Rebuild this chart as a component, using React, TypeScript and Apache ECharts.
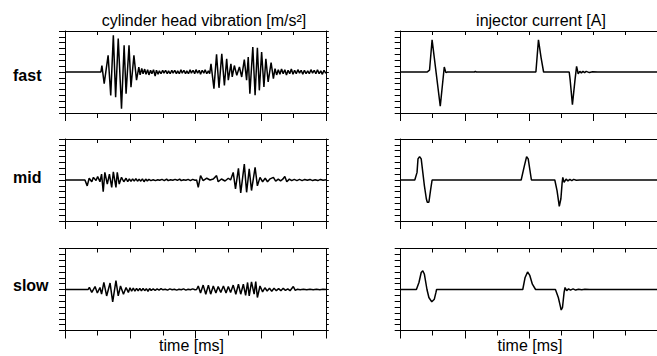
import React, { useEffect, useRef } from "react";
import * as echarts from "echarts";

// ---------- data: [time, value] ----------
const fastVibration: number[][] = [
  [0, 0], [11.0, 0], [11.3, 1.1], [12.0, -2.0], [13.2, 2.85], [14.0, -4.0], [14.8, 6.25], [15.5, -4.3],
  [16.3, 5.7], [17.3, -6.25], [18.1, 4.55], [18.7, -3.7], [19.6, 4.55], [20.2, -2.6], [21.1, 2.85],
  [21.9, -1.4], [22.6, 0.85],
  [23.0, -0.5], [23.5, 0.6], [23.9, -0.3], [24.4, 0.5], [24.8, -0.4], [25.3, 0.4], [25.7, -0.5], [26.2, 0.3],
  [26.6, -0.3], [27.1, 0.4], [27.6, -0.7], [28.0, 0.3], [28.5, -0.4], [28.9, 0.2], [29.4, -0.3], [29.9, 0.3],
  [30.3, -0.2], [30.8, 0.3], [31.3, -0.3], [31.7, 0.2], [32.2, -0.3], [32.7, 0.3], [33.1, -0.2], [33.6, 0.3],
  [34.1, -0.3], [34.5, 0.2], [35.0, -0.3], [35.5, 0.4], [35.9, -0.2], [36.4, 0.3], [36.9, -0.3], [37.3, 0.2],
  [37.8, -0.3], [38.3, 0.4], [38.7, -0.2], [39.2, 0.3], [39.7, -0.3], [40.1, 0.4], [40.6, -0.2], [41.1, 0.3],
  [41.5, -0.4], [42.0, 0.3], [42.5, -0.2], [42.9, 0.4], [43.4, -0.3], [43.9, 0.2], [44.3, -0.3],
  [44.7, 1.4], [45.6, -2.84], [46.4, 3.0], [47.15, -2.7], [48.0, 3.1], [48.8, -2.3], [49.5, 2.27], [50.0, -1.4],
  [50.8, 1.4], [51.2, -0.85], [51.85, 1.1], [52.6, -0.57], [53.4, 0.85], [54.1, -0.85], [54.9, 2.1], [55.6, -1.4],
  [56.1, 2.56], [56.6, -3.7], [57.5, 4.26], [58.2, -3.98], [58.9, 4.15], [59.5, -3.13], [60.2, 3.4], [60.9, -2.56],
  [61.5, 2.27], [62.2, -1.7], [63.1, 1.6], [63.8, -1.14], [64.3, 0.57],
  [64.8, -0.5], [65.3, 0.4], [65.8, -0.4], [66.3, 0.5], [66.8, -0.3], [67.3, 0.4], [67.8, -0.5], [68.3, 0.3],
  [68.8, -0.3], [69.3, 0.5], [69.8, -0.4], [70.3, 0.3], [70.8, -0.3], [71.3, 0.4], [71.8, -0.2], [72.3, 0.3],
  [72.8, -0.4], [73.3, 0.3], [73.8, -0.3], [74.3, 0.2], [74.8, -0.3], [75.3, 0.4], [75.8, -0.2], [76.3, 0.3],
  [76.8, -0.3], [77.3, 0.4], [77.8, -0.3], [78.3, 0.2], [78.8, -0.4], [79.3, 0.3], [79.8, -0.2], [80, 0],
];

const midVibration: number[][] = [
  [0, 0], [6.1, 0], [6.8, -1.0], [7.4, 0.3], [8.2, -0.3], [8.7, 0.45], [9.5, -0.1], [10.0, 0.6], [10.7, -0.3],
  [11.2, 1.0], [11.7, -2.0], [12.2, 1.3], [12.95, -0.7], [13.6, 1.0], [14.3, -1.25], [14.8, 1.4], [15.6, -1.25],
  [16.0, 1.3], [16.6, -0.7], [17.3, 0.45], [18.0, -0.3], [18.7, 0.3],
  [19.2, -0.3], [19.7, 0.2], [20.2, -0.25], [20.7, 0.2], [21.2, -0.2], [21.7, 0.25], [22.2, -0.2], [22.7, 0.15],
  [23.2, -0.2], [23.7, 0.2], [24.2, -0.3], [24.7, 0.15], [25.2, -0.15], [25.7, 0.1], [26.3, -0.1], [27.0, 0.05],
  [27.7, -0.1], [28.4, 0.05], [29.0, -0.05], [29.7, 0.1], [30.4, -0.1], [31.1, 0.15], [31.6, -0.1], [32.3, 0.05],
  [33.0, -0.05], [33.7, 0.1], [34.4, -0.05], [35.1, 0.15], [35.6, -0.1], [36.3, 0.05], [37.0, -0.05], [37.7, 0.1],
  [38.4, -0.1], [39.1, 0.1], [39.8, -0.05], [40.3, 0],
  [40.8, -1.25], [41.5, 0.75], [42.3, -0.1], [43.4, 0.3], [44.4, 0], [45.4, 0.17], [46.4, 0.75], [46.9, -0.3],
  [47.9, 0.17], [49.0, -0.17], [50.0, 0.3], [50.7, 0],
  [51.5, 1.3], [52.2, -1.5], [53.1, 2.0], [53.8, -2.2], [54.9, 2.7], [55.6, -2.1], [56.4, 1.9], [57.1, -1.8],
  [58.2, 2.15], [58.9, -1.0], [59.7, 0.45],
  [60.5, -0.3], [61.3, 0.3], [62.0, -0.3], [62.8, 0.2], [63.8, 0.45], [64.5, -0.2], [65.3, 0.15], [66.0, -0.15],
  [66.6, 0.1], [67.3, 0.6], [67.9, -0.3], [68.7, 0.15], [69.4, -0.1], [70.2, 0.1], [71.0, -0.1], [71.8, 0.1],
  [72.6, -0.1], [73.4, 0.1], [74.2, -0.05], [75.0, 0.1], [75.8, -0.1], [76.6, 0.05], [77.4, -0.1], [78.2, 0.1],
  [79.0, -0.05], [80, 0.05],
];

const slowVibration: number[][] = [
  [0, 0], [7.1, 0], [7.45, 0.35], [8.2, -0.5], [9.2, 0.5], [9.9, -0.6], [10.7, 0.35], [11.2, -0.8], [11.9, 1.2],
  [12.75, -1.1], [13.8, 1.1], [14.6, -2.1], [15.6, 1.5], [16.3, -1.1], [17.0, 0.6], [17.9, -0.8], [18.7, 0.35],
  [19.4, -0.5],
  [19.9, 0.3], [20.4, -0.3], [20.9, 0.25], [21.4, -0.3], [21.9, 0.2], [22.4, -0.25], [22.9, 0.2], [23.4, -0.25],
  [23.9, 0.2], [24.4, -0.2], [24.9, 0.15], [25.4, -0.3], [25.9, 0.15], [26.4, -0.15], [27.0, 0.1], [27.6, -0.15],
  [28.2, 0.1], [28.8, -0.1], [29.4, 0.15], [30.0, -0.05], [30.7, 0.05], [31.4, -0.1], [32.1, 0.1], [32.8, -0.05],
  [33.5, 0.05], [34.2, -0.1], [34.9, 0.05], [35.6, -0.05], [36.3, 0.1], [37.0, -0.1], [37.7, 0.05], [38.4, -0.05],
  [39.1, 0.1], [39.8, -0.05], [40.3, 0],
  [40.8, 0.6], [41.5, -0.6], [42.3, 0.75], [43.1, -0.8], [43.9, 0.75], [44.6, -0.8], [45.4, 0.6], [46.2, -0.6],
  [46.9, 0.5], [47.7, -0.5], [48.5, 0.6], [49.3, -0.6], [50.0, 0.5], [50.7, -0.5], [51.5, 0.75], [52.3, -0.8],
  [53.1, 0.9], [53.8, -0.8], [54.6, 0.9], [55.3, -1.0], [55.9, 1.2], [56.4, -1.1], [57.1, 1.3], [57.9, -0.8],
  [58.4, 1.36], [58.9, -1.36], [59.7, 0.6], [60.5, -0.4],
  [61.2, 0.3], [61.9, -0.25], [62.6, 0.2], [63.3, -0.3], [64.0, 0.2], [64.7, -0.2], [65.4, 0.15], [66.1, -0.2],
  [66.8, 0.2], [67.5, -0.15], [68.2, 0.1], [68.9, -0.2], [69.9, 0.5], [70.5, -0.15], [71.2, 0.05], [72.0, -0.05],
  [73.0, 0.05], [74.0, -0.05], [75.0, 0.05], [76.0, -0.05], [77.0, 0.05], [78.0, -0.05], [79.0, 0.05], [80, 0],
];

const fastCurrent: number[][] = [
  [0, 0], [8.3, 0], [8.6, 0.15], [9.0, 0.3], [9.8, 5.5], [12.35, -5.85], [13.6, 0.85], [14.1, -0.1], [14.6, 0],
  [23.0, 0], [23.3, 0.1], [23.6, 0],
  [42.2, 0], [43.0, 5.5], [43.8, 2.5], [44.6, 0],
  [52.6, 0], [52.9, -1.4], [53.6, -5.57], [54.4, -1.4], [54.9, 0.97], [55.4, -0.3], [55.9, 0.1], [56.4, -0.15],
  [56.9, 0.1], [57.4, -0.1], [57.9, 0.1], [58.9, -0.1], [59.9, 0.05], [61.5, 0], [80, 0],
];

const midCurrent: number[][] = [
  [0, 0], [4.4, 0], [5.1, 1.3], [5.4, 3.6], [5.9, 4.0], [6.4, 3.6], [6.9, 1.3], [7.4, -1.0], [8.0, -3.2],
  [8.3, -3.8], [8.8, -3.8], [9.3, -1.8], [9.8, 0],
  [37.6, 0], [38.6, 2.4], [39.3, 4.0], [39.8, 3.6], [40.8, 0],
  [48.1, 0], [48.8, -1.8], [49.5, -4.5], [50.0, -3.2], [50.4, -0.4], [50.6, 0.45], [51.0, -0.4], [51.6, 0.15],
  [52.2, -0.15], [52.8, 0.1], [53.4, -0.1], [54.0, 0.1], [54.8, -0.05], [55.9, 0], [80, 0],
];

const slowCurrent: number[][] = [
  [0, 0], [4.9, 0], [5.7, 1.2], [6.4, 2.9], [6.9, 3.2], [7.4, 2.6], [8.2, 0], [8.8, -1.36], [9.7, -2.1],
  [10.5, -1.65], [11.0, -0.5], [11.2, 0],
  [38.1, 0], [38.8, 2.0], [39.6, 3.0], [40.3, 2.4], [41.1, 0.9], [42.1, 0],
  [48.3, 0], [49.2, -1.36], [49.8, -2.8], [50.1, -3.5], [50.5, -3.07], [51.0, -0.5], [51.3, 0.34], [51.8, -0.2],
  [52.4, 0.1], [53.0, -0.1], [53.8, 0.1], [54.6, -0.1], [55.5, 0.05], [56.5, -0.05], [57.5, 0.05], [59.0, 0], [80, 0],
];

const columnTitles = ["cylinder head vibration [m/s²]", "injector current [A]"];
const rowLabels = ["fast", "mid", "slow"];
const xAxisTitle = "time [ms]";

const vibrationSeries = [fastVibration, midVibration, slowVibration];
const currentSeries = [fastCurrent, midCurrent, slowCurrent];

const FONT = "'Liberation Sans', Arial, Helvetica, sans-serif";

export default function App() {
  const ref = useRef<HTMLDivElement>(null);
  useEffect(() => {
    if (!ref.current) return;
    const chart = echarts.init(ref.current, undefined, { renderer: "svg" });

    const colLeft = [65, 400.7];
    const rowTop = [31, 139, 248.5];
    const W = 261.3;
    const H = 82;

    const grid: any[] = [];
    const xAxis: any[] = [];
    const yAxis: any[] = [];
    const series: any[] = [];
    const axisLineStyle = { color: "#000", width: 1 };

    for (let r = 0; r < 3; r++) {
      for (let c = 0; c < 2; c++) {
        const gi = grid.length;
        grid.push({ left: colLeft[c], top: rowTop[r], width: W, height: H });
        const xb = xAxis.length;
        xAxis.push({
          type: "value", gridIndex: gi, position: "bottom", min: 0, max: 80, interval: 20,
          axisLine: { show: true, onZero: false, lineStyle: axisLineStyle },
          axisTick: { show: true, inside: false, length: 8, lineStyle: axisLineStyle },
          minorTick: { show: true, splitNumber: 2, length: 5, lineStyle: axisLineStyle },
          axisLabel: { show: false }, splitLine: { show: false }, minorSplitLine: { show: false },
        });
        xAxis.push({
          type: "value", gridIndex: gi, position: "top", min: 0, max: 80, interval: 10,
          axisLine: { show: true, onZero: false, lineStyle: axisLineStyle },
          axisTick: { show: true, inside: true, length: 4, lineStyle: axisLineStyle },
          axisLabel: { show: false }, splitLine: { show: false },
        });
        const yb = yAxis.length;
        yAxis.push({
          type: "value", gridIndex: gi, position: "left", min: -7, max: 7, interval: 1,
          axisLine: { show: true, onZero: false, lineStyle: axisLineStyle },
          axisTick: { show: true, inside: false, length: 6, lineStyle: axisLineStyle },
          axisLabel: { show: false }, splitLine: { show: false },
        });
        yAxis.push({
          type: "value", gridIndex: gi, position: "right", min: -7, max: 7, interval: 1,
          axisLine: { show: true, onZero: false, lineStyle: axisLineStyle },
          axisTick: { show: true, inside: false, length: 2.5, lineStyle: axisLineStyle },
          axisLabel: { show: false }, splitLine: { show: false },
        });
        const data = c === 0 ? vibrationSeries[r] : currentSeries[r];
        series.push({
          type: "line", xAxisIndex: xb, yAxisIndex: yb, data, showSymbol: false, symbol: "none",
          lineStyle: { color: "#000", width: 1.5 }, clip: true, silent: true,
        });
      }
    }

    const rowLabelY = [75, 177, 285];
    const graphic: any[] = [
      { type: "text", x: 204, y: 20, style: { text: columnTitles[0], font: `16px ${FONT}`, fill: "#000", textAlign: "center", textVerticalAlign: "middle" } },
      { type: "text", x: 541, y: 20, style: { text: columnTitles[1], font: `16px ${FONT}`, fill: "#000", textAlign: "center", textVerticalAlign: "middle" } },
      ...rowLabels.map((t, i) => ({
        type: "text", x: 13, y: rowLabelY[i],
        style: { text: t, font: `bold 16px ${FONT}`, fill: "#000", textAlign: "left", textVerticalAlign: "middle" },
      })),
      { type: "text", x: 191.5, y: 345, style: { text: xAxisTitle, font: `16px ${FONT}`, fill: "#000", textAlign: "center", textVerticalAlign: "middle" } },
      { type: "text", x: 530, y: 345, style: { text: xAxisTitle, font: `16px ${FONT}`, fill: "#000", textAlign: "center", textVerticalAlign: "middle" } },
    ];

    chart.setOption({
      animation: false,
      backgroundColor: "#fff",
      grid, xAxis, yAxis, series, graphic,
    });
    return () => chart.dispose();
  }, []);
  return <div ref={ref} style={{ position: "fixed", left: 0, top: 0, width: 657, height: 356 }} />;
}
